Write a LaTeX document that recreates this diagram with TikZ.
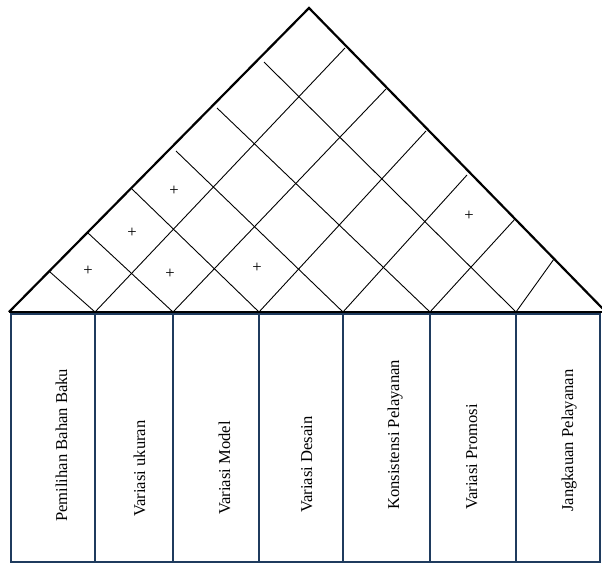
\documentclass[tikz,border=0pt]{standalone}
\usepackage{fontspec}
\setmainfont{Liberation Serif}
\definecolor{navy}{HTML}{1F3B5E}

\begin{document}
\begin{tikzpicture}[x=1pt, y=-1pt,
  roof/.style={line width=2.2pt, line join=miter},
  grid/.style={line width=0.9pt},
  col/.style={draw=navy, line width=2.4pt},
  lbl/.style={rotate=90, anchor=base west, inner sep=0pt, font=\fontsize{16.6}{18}\selectfont},
  plus/.style={inner sep=0pt, font=\fontsize{16.6}{18}\selectfont}]

  \useasboundingbox (0,0) rectangle (602,565);

  % Roof corners and base points
  \coordinate (T) at (309,8);
  \coordinate (L) at (9,312);
  \coordinate (R) at (606,312);
  \coordinate (B1) at (95,312);
  \coordinate (B2) at (173,312);
  \coordinate (B3) at (259,312);
  \coordinate (B4) at (343,312);
  \coordinate (B5) at (430,312);
  \coordinate (B6) at (516,312);

  % Ends on the left side
  \coordinate (U1) at (50,272);
  \coordinate (U2) at (88,233);
  \coordinate (U3) at (132,189);
  \coordinate (U4) at (176,151);
  \coordinate (U5) at (217,108);
  \coordinate (U6) at (264,62);

  % Ends on the right side
  \coordinate (V1) at (345,48);
  \coordinate (V2) at (386,89);
  \coordinate (V3) at (426,131);
  \coordinate (V4) at (467,175);
  \coordinate (V5) at (515,219);
  \coordinate (V6) at (554,259);

  % Grid in the roof
  \draw[grid] (U1) -- (B1);
  \draw[grid] (U2) -- (B2);
  \draw[grid] (U3) -- (B3);
  \draw[grid] (U4) -- (B4);
  \draw[grid] (U5) -- (B5);
  \draw[grid] (U6) -- (B6);
  \draw[grid] (B1) -- (V1);
  \draw[grid] (B2) -- (V2);
  \draw[grid] (B3) -- (V3);
  \draw[grid] (B4) -- (V4);
  \draw[grid] (B5) -- (V5);
  \draw[grid] (B6) -- (V6);

  \node[plus] (p1) at (174,191) {+};
  \node[plus] (p2) at (132,233) {+};
  \node[plus] (p3) at (88,271) {+};
  \node[plus] (p4) at (170,274) {+};
  \node[plus] (p5) at (257,268) {+};
  \node[plus] (p6) at (469,216) {+};

  % Columns (bottom)
  \draw[col] (11,314) rectangle (600,562);
  \draw[col] (95,314) -- (95,562);
  \draw[col] (173,314) -- (173,562);
  \draw[col] (259,314) -- (259,562);
  \draw[col] (343,314) -- (343,562);
  \draw[col] (430,314) -- (430,562);
  \draw[col] (516,314) -- (516,562);

  \draw[roof] (L) -- (T) -- (R);
  \draw[roof] (L) -- (R);

  \node[lbl] (c1) at (67,522) {Pemilihan Bahan Baku};
  \node[lbl] (c2) at (145,517) {Variasi ukuran};
  \node[lbl] (c3) at (230,515) {Variasi Model};
  \node[lbl] (c4) at (312,513) {Variasi Desain};
  \node[lbl] (c5) at (399,510) {Konsistensi Pelayanan};
  \node[lbl] (c6) at (477,510) {Variasi Promosi};
  \node[lbl] (c7) at (573,512) {Jangkauan Pelayanan};
\end{tikzpicture}
\end{document}
